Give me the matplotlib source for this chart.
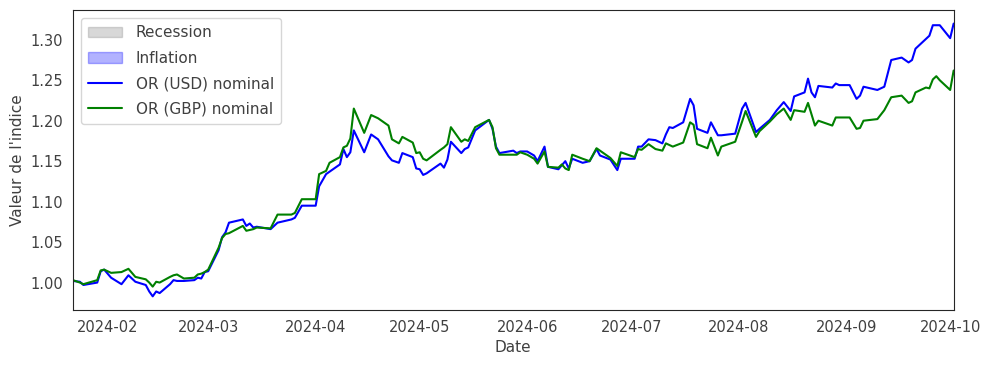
import matplotlib

matplotlib.use("Agg")
import matplotlib.pyplot as plt
import pandas as pd
import seaborn as sns
from matplotlib.patches import Patch

# daily index values
dates = [
    "2024-01-22", "2024-01-24", "2024-01-25", "2024-01-29", "2024-01-30", "2024-01-31",
    "2024-02-02", "2024-02-05", "2024-02-07", "2024-02-09", "2024-02-12", "2024-02-13",
    "2024-02-14", "2024-02-15", "2024-02-16", "2024-02-19", "2024-02-20", "2024-02-21",
    "2024-02-23", "2024-02-26", "2024-02-27", "2024-02-28", "2024-02-29", "2024-03-01",
    "2024-03-04", "2024-03-05", "2024-03-06", "2024-03-07", "2024-03-11", "2024-03-12",
    "2024-03-13", "2024-03-14", "2024-03-15", "2024-03-19", "2024-03-21", "2024-03-25",
    "2024-03-26", "2024-03-28", "2024-04-01", "2024-04-02", "2024-04-04", "2024-04-05",
    "2024-04-08", "2024-04-09", "2024-04-10", "2024-04-11", "2024-04-12", "2024-04-15",
    "2024-04-17", "2024-04-19", "2024-04-22", "2024-04-23", "2024-04-25", "2024-04-26",
    "2024-04-29", "2024-04-30", "2024-05-01", "2024-05-02", "2024-05-03", "2024-05-07",
    "2024-05-08", "2024-05-09", "2024-05-10", "2024-05-13", "2024-05-14", "2024-05-15",
    "2024-05-17", "2024-05-21", "2024-05-22", "2024-05-23", "2024-05-24", "2024-05-28",
    "2024-05-29", "2024-05-30", "2024-06-01", "2024-06-03", "2024-06-04", "2024-06-06",
    "2024-06-07", "2024-06-10", "2024-06-11", "2024-06-12", "2024-06-13", "2024-06-14",
    "2024-06-17", "2024-06-19", "2024-06-21", "2024-06-22", "2024-06-25", "2024-06-27",
    "2024-06-28", "2024-07-02", "2024-07-03", "2024-07-04", "2024-07-06", "2024-07-08",
    "2024-07-10", "2024-07-11", "2024-07-12", "2024-07-13", "2024-07-16", "2024-07-18",
    "2024-07-19", "2024-07-20", "2024-07-23", "2024-07-24", "2024-07-26", "2024-07-27",
    "2024-07-31", "2024-08-02", "2024-08-03", "2024-08-06", "2024-08-07", "2024-08-10",
    "2024-08-12", "2024-08-14", "2024-08-16", "2024-08-17", "2024-08-20", "2024-08-21",
    "2024-08-22", "2024-08-23", "2024-08-24", "2024-08-28", "2024-08-29", "2024-08-30",
    "2024-09-02", "2024-09-04", "2024-09-05", "2024-09-06", "2024-09-10", "2024-09-12",
    "2024-09-14", "2024-09-17", "2024-09-19", "2024-09-20", "2024-09-21", "2024-09-24",
    "2024-09-25", "2024-09-26", "2024-09-27", "2024-09-28", "2024-10-01", "2024-10-02",
]

usd_nominal = [
    1.002, 1.001, 0.997, 1.000, 1.014, 1.016,
    1.006, 0.998, 1.009, 1.001, 0.997, 0.989,
    0.983, 0.989, 0.987, 0.998, 1.003, 1.002,
    1.002, 1.003, 1.006, 1.005, 1.013, 1.014,
    1.040, 1.056, 1.062, 1.074, 1.078, 1.070,
    1.073, 1.068, 1.069, 1.066, 1.074, 1.078,
    1.080, 1.095, 1.095, 1.119, 1.134, 1.137,
    1.146, 1.165, 1.155, 1.161, 1.188, 1.161,
    1.183, 1.177, 1.156, 1.151, 1.148, 1.160,
    1.155, 1.141, 1.140, 1.133, 1.135, 1.147,
    1.142, 1.152, 1.174, 1.160, 1.165, 1.167,
    1.188, 1.201, 1.190, 1.168, 1.160, 1.163,
    1.160, 1.162, 1.162, 1.157, 1.150, 1.168,
    1.143, 1.140, 1.145, 1.150, 1.141, 1.153,
    1.148, 1.150, 1.165, 1.157, 1.152, 1.139,
    1.153, 1.153, 1.168, 1.168, 1.177, 1.176,
    1.172, 1.183, 1.192, 1.191, 1.198, 1.227,
    1.219, 1.190, 1.185, 1.198, 1.182, 1.182,
    1.184, 1.215, 1.222, 1.186, 1.190, 1.201,
    1.213, 1.223, 1.212, 1.230, 1.235, 1.252,
    1.235, 1.229, 1.243, 1.241, 1.246, 1.244,
    1.244, 1.227, 1.231, 1.242, 1.238, 1.242,
    1.275, 1.278, 1.272, 1.275, 1.289, 1.301,
    1.305, 1.318, 1.318, 1.318, 1.302, 1.320,
]

gbp_nominal = [
    1.003, 1.000, 0.998, 1.003, 1.015, 1.016,
    1.012, 1.013, 1.017, 1.007, 1.004, 1.000,
    0.995, 1.001, 1.000, 1.007, 1.009, 1.010,
    1.005, 1.006, 1.010, 1.011, 1.013, 1.016,
    1.043, 1.055, 1.060, 1.061, 1.070, 1.064,
    1.065, 1.066, 1.068, 1.067, 1.084, 1.084,
    1.086, 1.103, 1.103, 1.134, 1.138, 1.148,
    1.155, 1.167, 1.169, 1.178, 1.215, 1.185,
    1.207, 1.203, 1.194, 1.177, 1.172, 1.180,
    1.173, 1.160, 1.161, 1.153, 1.151, 1.164,
    1.167, 1.171, 1.192, 1.174, 1.177, 1.175,
    1.192, 1.201, 1.192, 1.166, 1.158, 1.158,
    1.158, 1.161, 1.158, 1.153, 1.147, 1.162,
    1.143, 1.142, 1.146, 1.141, 1.139, 1.158,
    1.153, 1.150, 1.166, 1.163, 1.154, 1.144,
    1.161, 1.155, 1.165, 1.164, 1.171, 1.165,
    1.163, 1.172, 1.170, 1.168, 1.173, 1.198,
    1.195, 1.171, 1.166, 1.179, 1.157, 1.168,
    1.174, 1.199, 1.212, 1.180, 1.187, 1.199,
    1.208, 1.215, 1.201, 1.213, 1.211, 1.222,
    1.208, 1.194, 1.200, 1.194, 1.204, 1.204,
    1.204, 1.190, 1.191, 1.200, 1.202, 1.213,
    1.229, 1.231, 1.222, 1.224, 1.235, 1.241,
    1.240, 1.251, 1.255, 1.250, 1.238, 1.262,
]

legend_labels = ["Recession", "Inflation", "OR (USD) nominal", "OR (GBP) nominal"]

sns.set_style("white")
plt.rcParams["font.family"] = ["DejaVu Sans"]
plt.rcParams["font.size"] = 10

x = pd.to_datetime(dates)

fig = plt.figure(figsize=(9.94, 3.69), dpi=100)
ax = fig.add_axes([0.0734, 0.160, 0.886, 0.813])

usd_line, = ax.plot(x, usd_nominal, color="blue", linewidth=1.5)
gbp_line, = ax.plot(x, gbp_nominal, color="green", linewidth=1.5)

ax.set_xlim(x[0], x[-1])
ax.margins(y=0.05)
ax.set_xlabel("Date", fontsize=11, color="#404040")
ax.set_ylabel("Valeur de l'indice", fontsize=11, color="#404040")
ax.tick_params(labelsize=10.5, labelcolor="#404040")

handles = [
    Patch(facecolor="grey", edgecolor="grey", alpha=0.3),
    Patch(facecolor="blue", edgecolor="blue", alpha=0.3),
    usd_line,
    gbp_line,
]
ax.legend(
    handles,
    legend_labels,
    loc="upper left",
    fontsize=11,
    labelcolor="#404040",
    labelspacing=0.68,
    handlelength=2.2,
    handletextpad=0.9,
    borderpad=0.5,
)

fig.savefig("out.png", dpi=100)
